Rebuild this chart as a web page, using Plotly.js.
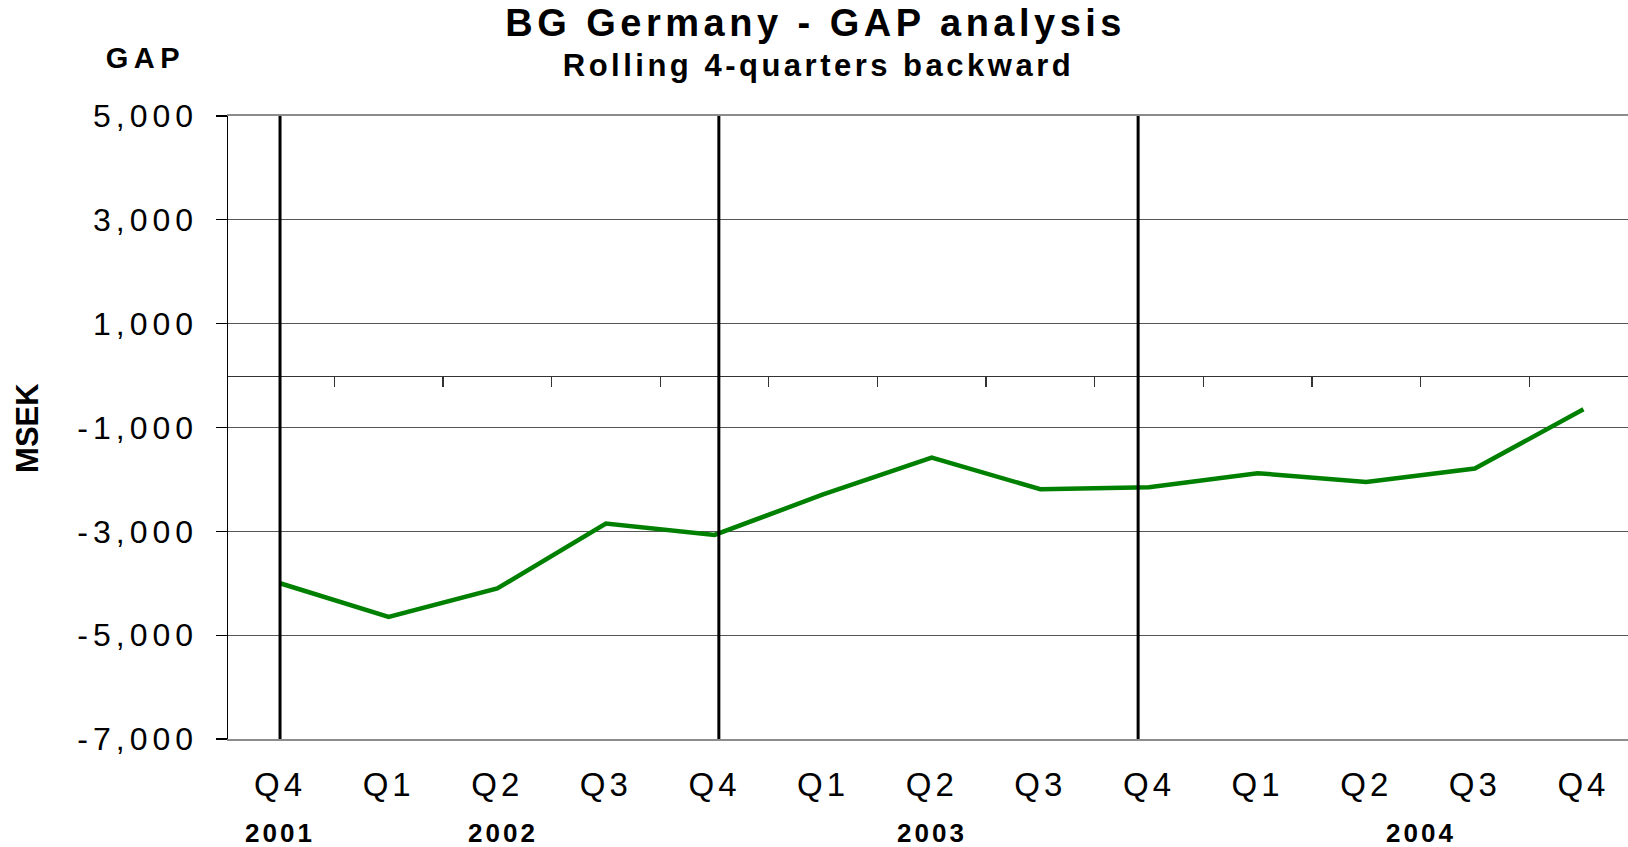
<!DOCTYPE html>
<html>
<head>
<meta charset="utf-8">
<script src="https://cdn.plot.ly/plotly-3.0.1.min.js"></script>
<style>
  html, body { margin: 0; padding: 0; background: #fff; }
  #chart { width: 1628px; height: 847px; }
  .gtitle { letter-spacing: 4.5px; }
  .xtick text { letter-spacing: 4px; }
  .ytick text { letter-spacing: 5px; }
  .annotation[data-index="0"] .annotation-text { letter-spacing: 3.5px; }
  .annotation[data-index="1"] .annotation-text { letter-spacing: 5.5px; }
  .annotation[data-index="3"] .annotation-text,
  .annotation[data-index="4"] .annotation-text,
  .annotation[data-index="5"] .annotation-text,
  .annotation[data-index="6"] .annotation-text { letter-spacing: 3px; }
</style>
</head>
<body>
<div id="chart"></div>
<script>
// ---- data ----
const categories = ['Q4','Q1','Q2','Q3','Q4','Q1','Q2','Q3','Q4','Q1','Q2','Q3','Q4'];
const gapValues = [-4000, -4650, -4100, -2850, -3070, -2290, -1580, -2190, -2150, -1880, -2050, -1790, -650];
const years = ['2001', '2002', '2003', '2004'];
const yearLabelPos = [0, 2.05, 6, 10.5];
const separatorPos = [0, 4.04, 7.9];
const yTickVals = [5000, 3000, 1000, -1000, -3000, -5000, -7000];
const yTickText = ['5,000', '3,000', '1,000', '-1,000', '-3,000', '-5,000', '-7,000'];

// ---- layout helpers ----
const FONT = '"Liberation Sans", Arial, sans-serif';
const yMin = -7000, yMax = 5000;
const xRange = [-0.479, 12.41];
const idx = categories.map((_, i) => i);
const boundaries = idx.slice(0, -1).map(i => i + 0.5);

const traces = [{
  type: 'scatter',
  mode: 'lines',
  x: idx,
  y: gapValues,
  line: { color: '#008000', width: 4.5 },
  hoverinfo: 'skip'
}, {
  // invisible trace to activate xaxis2 (zero-line category axis)
  type: 'scatter', mode: 'markers', x: [0], y: [0], xaxis: 'x2',
  marker: { opacity: 0 }, hoverinfo: 'skip'
}];

const shapes = separatorPos.map(p => ({
  type: 'line', xref: 'x', yref: 'y',
  x0: p, x1: p, y0: yMin - 60, y1: yMax,
  line: { color: '#000', width: 3 }, layer: 'above'
}));

const annotations = [
  { text: '<b>Rolling 4-quarters backward</b>', xref: 'paper', yref: 'paper',
    x: 0.4219, y: 1.0818, showarrow: false, xanchor: 'center', yanchor: 'middle',
    font: { family: FONT, size: 31, color: '#000' } },
  { text: '<b>GAP</b>', xref: 'paper', yref: 'paper',
    x: -0.0586, y: 1.093, showarrow: false, xanchor: 'center', yanchor: 'middle',
    font: { family: FONT, size: 29, color: '#000' } },
  { text: '<b>MSEK</b>', xref: 'paper', yref: 'paper', textangle: -90,
    x: -0.1429, y: 0.4992, showarrow: false, xanchor: 'center', yanchor: 'middle',
    font: { family: FONT, size: 31, color: '#000' } }
].concat(years.map((yr, i) => ({
  text: '<b>' + yr + '</b>', xref: 'x', yref: 'paper',
  x: yearLabelPos[i], y: -0.151, showarrow: false, xanchor: 'center', yanchor: 'middle',
  font: { family: FONT, size: 26, color: '#000' }
})));

const layout = {
  width: 1628, height: 847,
  margin: { l: 228, r: 0, t: 116, b: 108, pad: 0 },
  paper_bgcolor: '#fff', plot_bgcolor: '#fff',
  showlegend: false,
  hovermode: false,
  title: {
    text: '<b>BG Germany - GAP analysis</b>',
    font: { family: FONT, size: 38, color: '#000' },
    xref: 'container', yref: 'container',
    x: 0.501, y: 1 - 23 / 847, xanchor: 'center', yanchor: 'middle'
  },
  xaxis: {
    range: xRange,
    tickmode: 'array', tickvals: idx, ticktext: categories,
    ticks: '', showgrid: false, zeroline: false,
    showline: true, mirror: true, linecolor: '#8c8c8c', linewidth: 2,
    tickfont: { family: FONT, size: 33, color: '#000' },
    ticklabelstandoff: 15,
    fixedrange: true
  },
  xaxis2: {
    overlaying: 'x', anchor: 'free', side: 'bottom',
    position: (0 - yMin) / (yMax - yMin),
    range: xRange,
    tickmode: 'array', tickvals: boundaries,
    ticks: 'outside', ticklen: 10, tickwidth: 1.2, tickcolor: '#333',
    showticklabels: false, showgrid: false, zeroline: false,
    showline: true, linecolor: '#333', linewidth: 1.2,
    fixedrange: true
  },
  yaxis: {
    range: [yMin, yMax],
    tickmode: 'array', tickvals: yTickVals, ticktext: yTickText,
    ticks: 'outside', ticklen: 11, tickwidth: 1.2, tickcolor: '#000',
    showline: true, linecolor: '#000', linewidth: 1.5,
    showgrid: true, gridcolor: '#555', gridwidth: 1,
    zeroline: false,
    tickfont: { family: FONT, size: 32, color: '#000' },
    ticklabelstandoff: 11,
    fixedrange: true
  },
  shapes: shapes,
  annotations: annotations
};

Plotly.newPlot('chart', traces, layout, { displayModeBar: false, staticPlot: true });
</script>
</body>
</html>
